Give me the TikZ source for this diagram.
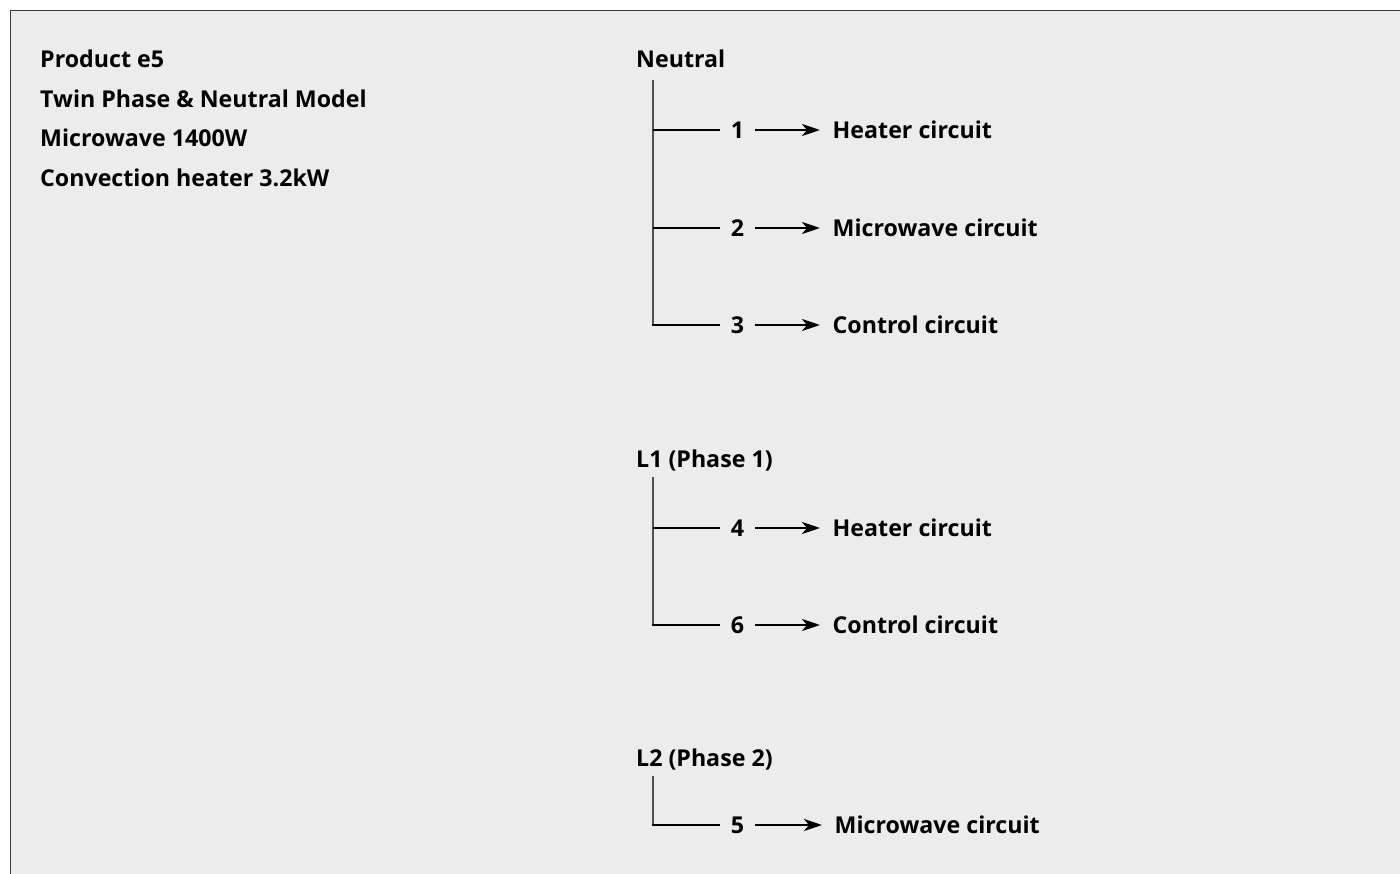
\documentclass[tikz,border=0pt]{standalone}
\usepackage{fontspec}
\setmainfont{Open Sans}
\usetikzlibrary{arrows.meta}
\definecolor{bg}{HTML}{ECECEC}
\definecolor{frame}{HTML}{3C3C3C}
\definecolor{trunk}{HTML}{4A5058}
\begin{document}
\begin{tikzpicture}[x=1pt,y=-1pt,
  txt/.style={inner sep=0pt,font=\fontsize{23.2}{27}\selectfont\bfseries,anchor=base west},
  num/.style={inner xsep=11pt,inner ysep=0pt,font=\fontsize{23.2}{27}\selectfont\bfseries,anchor=base},
  circ/.style={inner xsep=12.5pt,inner ysep=0pt,font=\fontsize{23.2}{27}\selectfont\bfseries,anchor=base west},
  trunkline/.style={draw=trunk,line width=2.8pt},
  branch/.style={draw=black,line width=2.6pt},
  feed/.style={draw=black,line width=2.6pt,-{Stealth[length=18pt,width=12pt,inset=5pt]}}]
\useasboundingbox (0,0) rectangle (1400,874);
\fill[white] (0,0) rectangle (1400,874);
\filldraw[fill=bg,draw=frame,line width=1.5pt] (10.5,10.5) rectangle (1420,900);
% left text
\node[txt] (t1) at (40,68) {Product e5};
\node[txt] (t2) at (40,107.5) {Twin Phase \& Neutral Model};
\node[txt] (t3) at (40,147) {Microwave 1400W};
\node[txt] (t4) at (40,186.5) {Convection heater 3.2kW};
% Neutral
\node[txt] (neu) at (636,68) {Neutral};
\coordinate (ntop) at (653,80);
\coordinate (nb1) at (653,130);
\coordinate (nb2) at (653,228);
\coordinate (nb3) at (653,325);
\node[num] (n1) at (737.5,138.5) {1};
\node[num] (n2) at (737.5,236.5) {2};
\node[num] (n3) at (737.5,333.5) {3};
\node[circ] (c1) at (820,138.5) {Heater circuit};
\node[circ] (c2) at (820,236.5) {Microwave circuit};
\node[circ] (c3) at (820,333.5) {Control circuit};
\draw[trunkline] (ntop) -- (nb3);
\draw[branch] (nb1) -- (nb1 -| n1.west);
\draw[branch] (nb2) -- (nb2 -| n2.west);
\draw[branch] ([xshift=-1.4pt]nb3) -- (nb3 -| n3.west);
\draw[feed] (nb1 -| n1.east) -- (nb1 -| c1.west);
\draw[feed] (nb2 -| n2.east) -- (nb2 -| c2.west);
\draw[feed] (nb3 -| n3.east) -- (nb3 -| c3.west);
% L1
\node[txt] (l1) at (636,467) {L1 (Phase 1)};
\coordinate (atop) at (653,477);
\coordinate (ab1) at (653,528);
\coordinate (ab2) at (653,625);
\node[num] (n4) at (737.5,536.5) {4};
\node[num] (n6) at (737.5,633.5) {6};
\node[circ] (c4) at (820,536.5) {Heater circuit};
\node[circ] (c6) at (820,633.5) {Control circuit};
\draw[trunkline] (atop) -- (ab2);
\draw[branch] (ab1) -- (ab1 -| n4.west);
\draw[branch] ([xshift=-1.4pt]ab2) -- (ab2 -| n6.west);
\draw[feed] (ab1 -| n4.east) -- (ab1 -| c4.west);
\draw[feed] (ab2 -| n6.east) -- (ab2 -| c6.west);
% L2
\node[txt] (l2) at (636,766) {L2 (Phase 2)};
\coordinate (btop) at (653,776);
\coordinate (bb1) at (653,825);
\node[num] (n5) at (737.5,833.5) {5};
\node[circ] (c5) at (822,833.5) {Microwave circuit};
\draw[trunkline] (btop) -- (bb1);
\draw[branch] ([xshift=-1.4pt]bb1) -- (bb1 -| n5.west);
\draw[feed] (bb1 -| n5.east) -- (bb1 -| c5.west);
\end{tikzpicture}
\end{document}
